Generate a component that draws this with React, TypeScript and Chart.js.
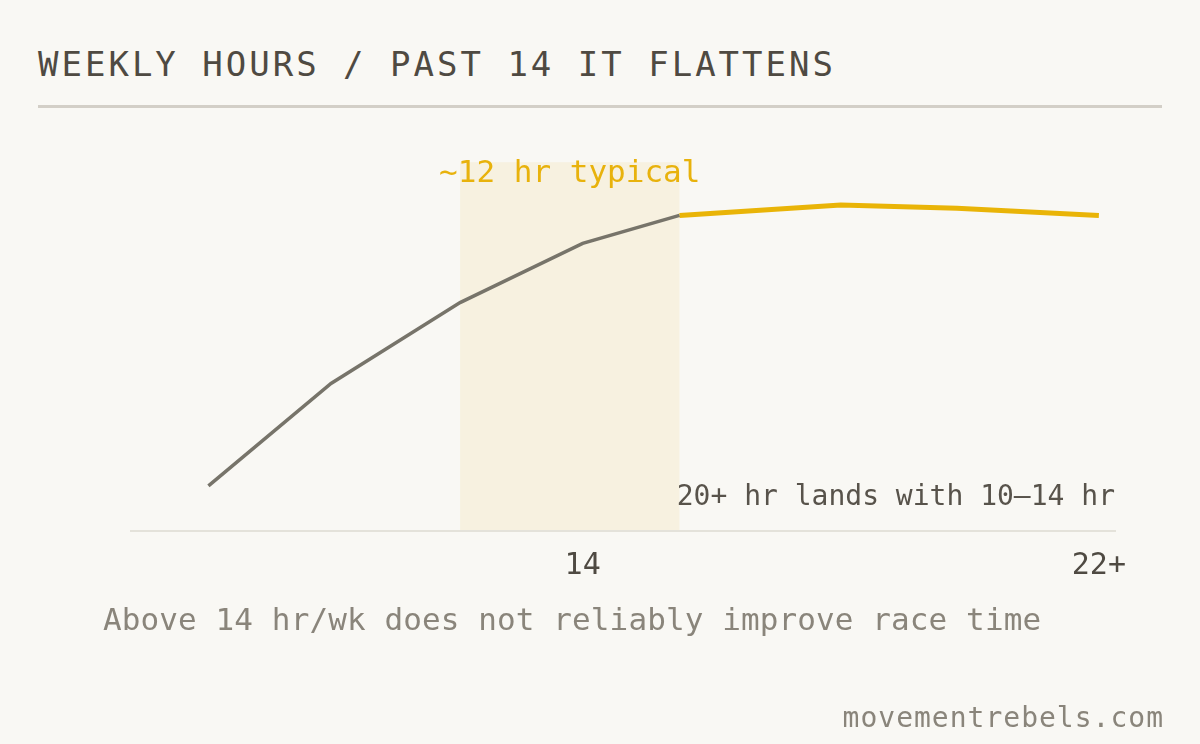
import { useEffect, useRef } from 'react'
import { Chart, registerables, Plugin } from 'chart.js'

Chart.register(...registerables)

// weekly training hours vs. relative race-time improvement (arbitrary units)
const risingHours = [8.2, 10.1, 12.1, 14, 15.5]
const risingGain = [11.3, 36.9, 57.1, 71.9, 78.9]
const flatHours = [15.5, 18, 19.8, 22]
const flatGain = [78.9, 81.5, 80.7, 78.9]

const tickValues = [14, 22]
const tickLabels = ['14', '22+']

// typical-volume band
const bandFrom = 12.1
const bandTo = 15.5
const bandTop = 92.2

const MONO = "'DejaVu Sans Mono', monospace"
const BG = '#f9f8f4'

const bandPlugin: Plugin<'line'> = {
  id: 'band',
  beforeDatasetsDraw(chart) {
    const { ctx, chartArea, scales } = chart
    const x0 = scales.x.getPixelForValue(bandFrom)
    const x1 = scales.x.getPixelForValue(bandTo)
    const y0 = scales.y.getPixelForValue(bandTop)
    ctx.save()
    ctx.fillStyle = '#f7f1e0'
    ctx.fillRect(x0, y0, x1 - x0, chartArea.bottom - 1 - y0)
    ctx.restore()
  },
  afterDatasetsDraw(chart) {
    const { ctx, chartArea, scales } = chart
    const x0 = scales.x.getPixelForValue(bandFrom)
    const x1 = scales.x.getPixelForValue(bandTo)
    const y0 = scales.y.getPixelForValue(bandTop)
    ctx.save()
    ctx.font = `31px ${MONO}`
    ctx.textBaseline = 'alphabetic'
    ctx.textAlign = 'center'
    ctx.fillStyle = '#e8b20c'
    ctx.fillText('~12 hr typical', (x0 + x1) / 2, y0 + 20)

    ctx.font = `28px ${MONO}`
    ctx.textAlign = 'right'
    ctx.fillStyle = '#58534b'
    ctx.fillText('20+ hr lands with 10\u201314 hr', chartArea.right, chartArea.bottom - 26)
    ctx.restore()
  },
}

function HoursChart() {
  const canvasRef = useRef<HTMLCanvasElement>(null)
  const chartRef = useRef<Chart | null>(null)

  useEffect(() => {
    if (!canvasRef.current) return
    chartRef.current?.destroy()

    chartRef.current = new Chart(canvasRef.current, {
      type: 'line',
      data: {
        datasets: [
          {
            label: 'Up to ~15 hr',
            data: risingHours.map((h, i) => ({ x: h, y: risingGain[i] })),
            borderColor: '#77746a',
            borderWidth: 3.5,
            pointRadius: 0,
            tension: 0,
          },
          {
            label: 'Past 14 hr',
            data: flatHours.map((h, i) => ({ x: h, y: flatGain[i] })),
            borderColor: '#e9b407',
            borderWidth: 5,
            pointRadius: 0,
            tension: 0,
          },
        ],
      },
      options: {
        responsive: false,
        animation: false,
        events: [],
        layout: { padding: { left: 131, right: 85, top: 131, bottom: 143 } },
        plugins: { legend: { display: false }, tooltip: { enabled: false } },
        scales: {
          x: {
            type: 'linear',
            min: 7,
            max: 22.25,
            grid: { display: false, drawTicks: false },
            border: { display: true, color: '#e4e2da', width: 2 },
            afterBuildTicks: axis => {
              axis.ticks = tickValues.map(v => ({ value: v }))
            },
            ticks: {
              padding: 17,
              color: '#4f4a42',
              font: { family: MONO, size: 30 },
              callback: (_v, i) => tickLabels[i],
            },
          },
          y: { display: false, min: 0, max: 100 },
        },
      },
      plugins: [bandPlugin],
    })

    return () => {
      chartRef.current?.destroy()
      chartRef.current = null
    }
  }, [])

  return <canvas ref={canvasRef} width={1200} height={744} style={{ position: 'absolute', left: 0, top: 0 }} />
}

export default function App() {
  useEffect(() => {
    document.body.style.margin = '0'
    document.body.style.background = BG
  }, [])

  return (
    <div style={{ position: 'relative', width: 1200, height: 744, background: BG, overflow: 'hidden', fontFamily: MONO }}>
      <div
        style={{
          position: 'absolute', left: 38, top: 46.5, fontSize: 34, lineHeight: '34px',
          letterSpacing: '3px', color: '#4f4a42', whiteSpace: 'nowrap',
        }}
      >
        WEEKLY HOURS / PAST 14 IT FLATTENS
      </div>
      <div style={{ position: 'absolute', left: 38, top: 105, width: 1124, height: 3, background: '#d3cfc7' }} />
      <HoursChart />
      <div
        style={{
          position: 'absolute', left: 103, top: 604, fontSize: 31, lineHeight: '31px',
          letterSpacing: '0.1px', color: '#8a857b', whiteSpace: 'nowrap',
        }}
      >
        Above 14 hr/wk does not reliably improve race time
      </div>
      <div
        style={{
          position: 'absolute', right: 36, top: 703.6, fontSize: 28, lineHeight: '28px',
          letterSpacing: '1px', color: '#8a857b', whiteSpace: 'nowrap',
        }}
      >
        movementrebels.com
      </div>
    </div>
  )
}
